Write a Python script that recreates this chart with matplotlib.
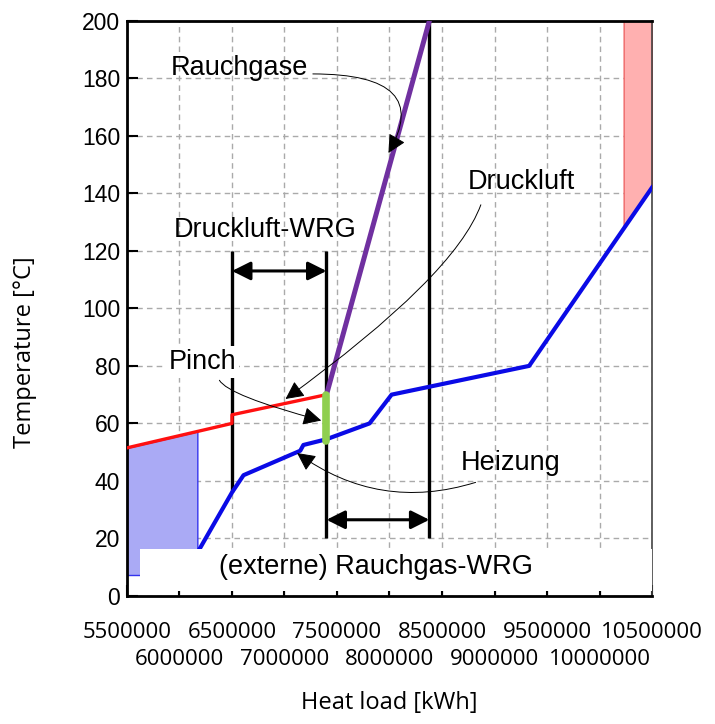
import matplotlib
matplotlib.use("Agg")
import matplotlib.pyplot as plt
import numpy as np

# composite curves
hot_x = [5500000, 6500000, 6500000, 7400000]          # Druckluft (red)
hot_y = [51.5, 60, 63, 70]
flue_x = [7400000, 8380000]                            # Rauchgase (purple)
flue_y = [70, 200]
pinch_x = [7400000, 7400000]                           # pinch (green)
pinch_y = [54, 70]
cold_x = [6170000, 6500000, 6610000, 7150000, 7180000, 7400000,
          7810000, 8020000, 9330000, 10500000]         # Heizung (blue)
cold_y = [15, 36, 42, 50.5, 52.5, 54.5, 60, 70, 80, 142]

xticks_row1 = [5500000, 6500000, 7500000, 8500000, 9500000, 10500000]
xticks_row2 = [6000000, 7000000, 8000000, 9000000, 10000000]
yticks = list(range(0, 201, 20))

annot_font = "Liberation Sans"
tick_font = "Open Sans"

fig = plt.figure(figsize=(7.15, 7.24), dpi=100)
ax = fig.add_axes([0.1776, 0.1768, 0.7343, 0.7946])

ax.set_xlim(5500000, 10500000)
ax.set_ylim(0, 200)

# shaded regions
fx = np.linspace(5500000, 6170000, 20)
ax.fill_between(fx, 7.3, np.interp(fx, hot_x[:2], hot_y[:2]),
                color="#aaaaf5", edgecolor="#3333ee", linewidth=1, zorder=2)
rx = np.linspace(10230000, 10500000, 20)
ax.fill_between(rx, np.interp(rx, cold_x, cold_y), 200,
                color="#ffb0b0", edgecolor="#ee6666", linewidth=1, zorder=2)

# curves
ax.plot(hot_x, hot_y, color="#ff1010", lw=2.4, zorder=4)
ax.plot(cold_x, cold_y, color="#0a0ae6", lw=3.0, zorder=4)
ax.plot(flue_x, flue_y, color="#7030a0", lw=3.6, zorder=5)
ax.plot(pinch_x, pinch_y, color="#8fcf4f", lw=5.5, solid_capstyle="round", zorder=6)

# vertical limit lines
ax.vlines([6500000, 7400000, 8380000], [36, 20, 20], [120, 120, 200],
          color="black", lw=2.4, zorder=3)

# dimension arrows
dim = dict(arrowstyle="<|-|>", lw=2.2, color="black", mutation_scale=28,
           shrinkA=0, shrinkB=0)
ax.annotate("", xy=(7400000, 113), xytext=(6500000, 113), arrowprops=dim, zorder=7)
ax.annotate("", xy=(8380000, 26.5), xytext=(7400000, 26.5), arrowprops=dim, zorder=7)

# white box under bottom label
ax.fill_between([5620000, 10500000], 1.8, 16.5, color="white", lw=0, zorder=8)
ax.text(7870000, 10.1, "(externe) Rauchgas-WRG", fontsize=19.5, family=annot_font,
        ha="center", va="center", zorder=9)

# labels with curved leader arrows
lead = dict(arrowstyle="-|>", lw=0.7, color="black", mutation_scale=28,
            shrinkA=0, shrinkB=0)
ax.text(6570000, 183.5, "Rauchgase", fontsize=19.5, family=annot_font,
        ha="center", va="center", zorder=9)
ax.annotate("", xy=(7990000, 154), xytext=(7270000, 181.5),
            arrowprops=dict(lead, connectionstyle="angle3,angleA=0,angleB=60"), zorder=9)

ax.text(6820000, 127.3, "Druckluft-WRG", fontsize=19.5, family=annot_font,
        ha="center", va="center", zorder=9)

ax.text(9260000, 144, "Druckluft", fontsize=19.5, family=annot_font,
        ha="center", va="center", zorder=9)
ax.annotate("", xy=(7010000, 68.5), xytext=(8870000, 136),
            arrowprops=dict(lead, connectionstyle="angle3,angleA=-110,angleB=36"), zorder=9)

ax.text(6220000, 81.4, "Pinch", fontsize=19.5, family=annot_font,
        ha="center", va="center", zorder=9,
        bbox=dict(facecolor="white", edgecolor="none", pad=2))
ax.annotate("", xy=(7350000, 61), xytext=(6380000, 75),
            arrowprops=dict(lead, connectionstyle="angle3,angleA=-60,angleB=165"), zorder=9)

ax.text(9150000, 46.3, "Heizung", fontsize=19.5, family=annot_font,
        ha="center", va="center", zorder=9)
ax.annotate("", xy=(7120000, 49.7), xytext=(8820000, 39.5),
            arrowprops=dict(lead, connectionstyle="arc3,rad=-0.25"), zorder=9)

# axes styling: x tick labels staggered in two rows
ax.set_xticks(xticks_row1)
ax.set_xticklabels([str(v) for v in xticks_row1], family=tick_font, fontsize=16)
ax.set_xticks(xticks_row2, minor=True)
ax.set_xticklabels([str(v) for v in xticks_row2], minor=True, family=tick_font, fontsize=16)
ax.set_yticks(yticks)
ax.set_yticklabels([str(v) for v in yticks], family=annot_font, fontsize=16.5)
ax.tick_params(which="both", direction="in", length=8, width=1.5)
ax.tick_params(axis="x", which="major", pad=19)
ax.tick_params(axis="x", which="minor", pad=38)
ax.tick_params(axis="y", pad=5)
ax.grid(True, which="both", color="#aaaaaa", linestyle=(0, (4, 3)), linewidth=1.0)
ax.set_axisbelow(True)
for s in ["left", "bottom", "top"]:
    ax.spines[s].set_linewidth(2)
ax.spines["right"].set_linewidth(1.2)
ax.spines["right"].set_color("#444444")

ax.set_xlabel("Heat load [kWh]", family=tick_font, fontsize=17, labelpad=16)
ax.xaxis.set_label_coords(0.5, -0.165)
ax.set_ylabel("Temperature [°C]", family=tick_font, fontsize=17)
ax.yaxis.set_label_coords(-0.171, 0.424)

fig.savefig("out.png", dpi=100)
